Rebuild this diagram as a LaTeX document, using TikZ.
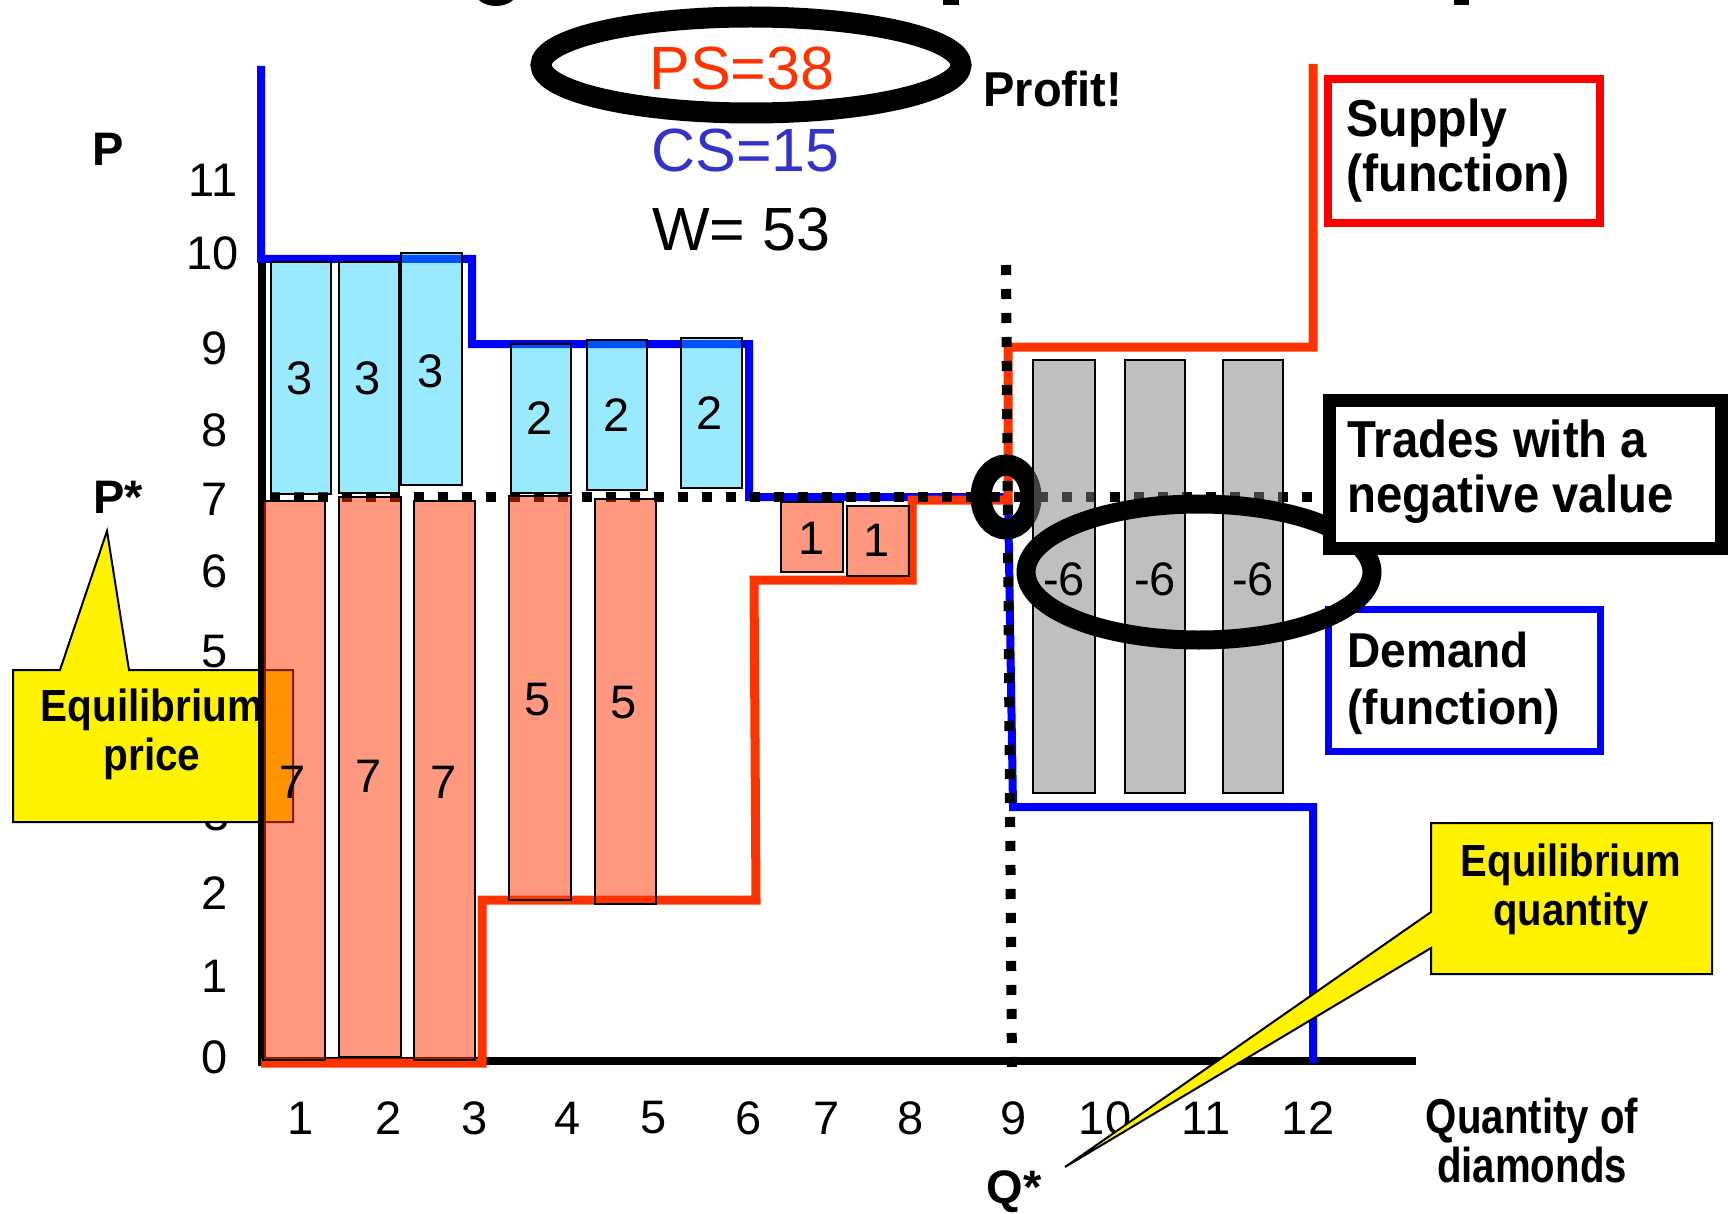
\documentclass[tikz,border=0pt]{standalone}
\usepackage{fontspec}
\setmainfont{Liberation Sans}
\usepackage{graphicx}
\definecolor{supred}{RGB}{255,51,0}
\definecolor{csblue}{RGB}{51,51,204}
\definecolor{cyanfill}{RGB}{0,204,255}
\definecolor{grayfill}{RGB}{128,128,128}
\newcommand{\myfs}[1]{\fontsize{#1pt}{#1pt}\selectfont}
\newcommand{\sx}[2]{\scalebox{#1}[1]{#2}}
\begin{document}
\begin{tikzpicture}[x=0.5pt,y=-0.5pt,
  demandline/.style={draw=blue,line width=4pt},
  supplyline/.style={draw=supred,line width=4.5pt},
  axisline/.style={draw=black,line width=4pt},
  dotline/.style={draw=black,line width=5pt,dash pattern=on 5pt off 7pt},
  cyanbar/.style={draw=black,line width=1.1pt,fill=cyanfill,fill opacity=0.4},
  salbar/.style={draw=black,line width=1.1pt,fill=supred,fill opacity=0.5},
  graybar/.style={draw=black,line width=1.1pt,fill=grayfill,fill opacity=0.5},
  callout/.style={draw=black,line width=1pt,fill=yellow},
  numlab/.style={inner sep=0pt,font=\myfs{23.5}},
  boldlab/.style={inner sep=0pt,font=\myfs{23.5}\bfseries},
  bigtxt/.style={inner sep=0pt,anchor=base west,font=\myfs{30.5}},
  boxtxt/.style={inner sep=0pt,anchor=base west,font=\myfs{26}\bfseries},
  calltxt/.style={inner sep=0pt,anchor=base,font=\myfs{22.5}\bfseries}]
\useasboundingbox (0,0) rectangle (1729,1214);
\fill[white] (0,0) rectangle (1729,1214);

% fragments of a cut-off title
\fill (496,-10) ellipse [x radius=22, y radius=16];
\fill (943,0) rectangle (959,5);
\fill (1454,0) rectangle (1469,5);

% price axis labels
\node[boldlab] (plab) at (108,149) {P};
\node[numlab] (y11) at (213,180) {11};
\node[numlab] (y10) at (213,253) {10};
\node[numlab] (y9) at (215,348) {9};
\node[numlab] (y8) at (215,430) {8};
\node[numlab] (y7) at (215,499) {7};
\node[numlab] (y6) at (215,571) {6};
\node[numlab] (y5) at (215,652) {5};
\node[numlab] (y3) at (217,814) {3};
\node[numlab] (y2) at (215,893) {2};
\node[numlab] (y1) at (215,976) {1};
\node[numlab] (y0) at (215,1057) {0};
\node[boldlab] (pstar) at (118,497) {P*};

% left callout (under the bars)
\path[callout] (13,670) -- (60,670) -- (107,531) -- (129,670) -- (293,670) -- (293,822) -- (13,822) -- cycle;
\node[calltxt] (eqp1) at (152,721) {\sx{0.9}{Equilibrium}};
\node[calltxt] (eqp2) at (152,770) {\sx{0.9}{price}};

% axes
\draw[axisline] (262,262) -- (262,1066);
\draw[axisline] (262,1061) -- (1416,1061);

% demand and supply step lines
\draw[demandline] (261,66) -- (261,259) -- (472,259) -- (472,344) -- (749,344) -- (749,497) -- (1008,497) -- (1013,807) -- (1313,807) -- (1313,1063);
\draw[supplyline] (261,1063) -- (482,1063) -- (482,900) -- (756,900) -- (754,580) -- (912,580) -- (912,500) -- (1008,500) -- (1008,347) -- (1313,347) -- (1313,64);

% dotted equilibrium lines
\draw[dotline] (270,497) -- (1318,497);
\draw[dotline] (1006,265) -- (1012,1072);

% equilibrium ring
\draw[line width=10.5pt] (1006,497) ellipse [x radius=25, y radius=32];

% consumer surplus bars
\draw[cyanbar] (271,262) rectangle (331,494);
\draw[cyanbar] (339,262) rectangle (399,493);
\draw[cyanbar] (401,253) rectangle (462,485);
\draw[cyanbar] (511,344) rectangle (571,493);
\draw[cyanbar] (587,340) rectangle (647,490);
\draw[cyanbar] (681,338) rectangle (742,488);
% producer surplus bars
\draw[salbar] (263,501) rectangle (325,1060);
\draw[salbar] (339,497) rectangle (401,1057);
\draw[salbar] (414,501) rectangle (475,1060);
\draw[salbar] (509,496) rectangle (571,900);
\draw[salbar] (595,499) rectangle (656,904);
\draw[salbar] (781,502) rectangle (843,572);
\draw[salbar] (847,506) rectangle (909,576);
% negative trades
\draw[graybar] (1033,360) rectangle (1095,793);
\draw[graybar] (1125,360) rectangle (1185,793);
\draw[graybar] (1223,360) rectangle (1283,793);

% bar values
\node[numlab] (c1) at (300,378) {3};
\node[numlab] (c2) at (368,378) {3};
\node[numlab] (c3) at (431,371) {3};
\node[numlab] (c4) at (540,418) {2};
\node[numlab] (c5) at (617,415) {2};
\node[numlab] (c6) at (710,413) {2};
\node[numlab] (s1) at (293,782) {7};
\node[numlab] (s2) at (369,776) {7};
\node[numlab] (s3) at (444,782) {7};
\node[numlab] (s4) at (538,700) {5};
\node[numlab] (s5) at (624,703) {5};
\node[numlab] (s7) at (812,538) {1};
\node[numlab] (s8) at (877,540) {1};
\node[numlab] (g1) at (1064,579) {-6};
\node[numlab] (g2) at (1155,579) {-6};
\node[numlab] (g3) at (1253,579) {-6};

% demand box (under the big ellipse)
\draw[draw=blue,line width=3.5pt,fill=white] (1328,609) rectangle (1600,751);
\node[boxtxt,font=\myfs{24.5}\bfseries] (dem1) at (1347,667) {\sx{0.94}{Demand}};
\node[boxtxt,font=\myfs{24.5}\bfseries] (dem2) at (1347,724) {\sx{0.94}{(function)}};

% big ellipse round the negative trades
\draw[line width=9.5pt] (1199,572) ellipse [x radius=173, y radius=68];

% trades box
\draw[draw=black,line width=6.5pt,fill=white] (1329,400) rectangle (1721,548);
\node[boxtxt] (tr1) at (1347,457) {\sx{0.91}{Trades with a}};
\node[boxtxt] (tr2) at (1347,512) {\sx{0.91}{negative value}};

% supply box
\draw[draw=red,line width=4pt,fill=white] (1328,79) rectangle (1600,223);
\node[boxtxt] (sup1) at (1346,137) {\sx{0.93}{Supply}};
\node[boxtxt] (sup2) at (1346,192) {\sx{0.93}{(function)}};

% quantity axis labels
\node[numlab] (x1) at (301,1118) {1};
\node[numlab] (x2) at (389,1118) {2};
\node[numlab] (x3) at (475,1118) {3};
\node[numlab] (x4) at (568,1118) {4};
\node[numlab] (x5) at (654,1118) {5};
\node[numlab] (x6) at (749,1118) {6};
\node[numlab] (x7) at (827,1118) {7};
\node[numlab] (x8) at (911,1118) {8};
\node[numlab] (x9) at (1014,1118) {9};
\node[numlab] (x10) at (1105,1118) {10};
\node[numlab] (x11) at (1206,1118) {11};
\node[numlab] (x12) at (1308,1118) {12};
\node[boldlab] (qstar) at (1014,1192) {Q*};
\node[calltxt,font=\myfs{24.5}\bfseries] (qd1) at (1532,1133) {\sx{0.82}{Quantity of}};
\node[calltxt,font=\myfs{24.5}\bfseries] (qd2) at (1532,1182) {\sx{0.82}{diamonds}};

% right callout
\path[callout] (1431,823) -- (1712,823) -- (1712,974) -- (1431,974) -- (1431,948) -- (1065,1167) -- (1431,912) -- cycle;
\node[calltxt] (eqq1) at (1571,876) {\sx{0.89}{Equilibrium}};
\node[calltxt] (eqq2) at (1571,925) {\sx{0.89}{quantity}};

% surplus figures
\draw[line width=10.5pt] (751,65) ellipse [x radius=210, y radius=48];
\node[bigtxt,text=supred] (ps) at (649,90) {PS=38};
\node[bigtxt,text=csblue] (cs) at (651,172) {CS=15};
\node[bigtxt] (w) at (652,251) {W= 53};
\node[boxtxt,font=\myfs{24.5}\bfseries] (profit) at (983,107) {\sx{0.96}{Profit!}};
\end{tikzpicture}
\end{document}
